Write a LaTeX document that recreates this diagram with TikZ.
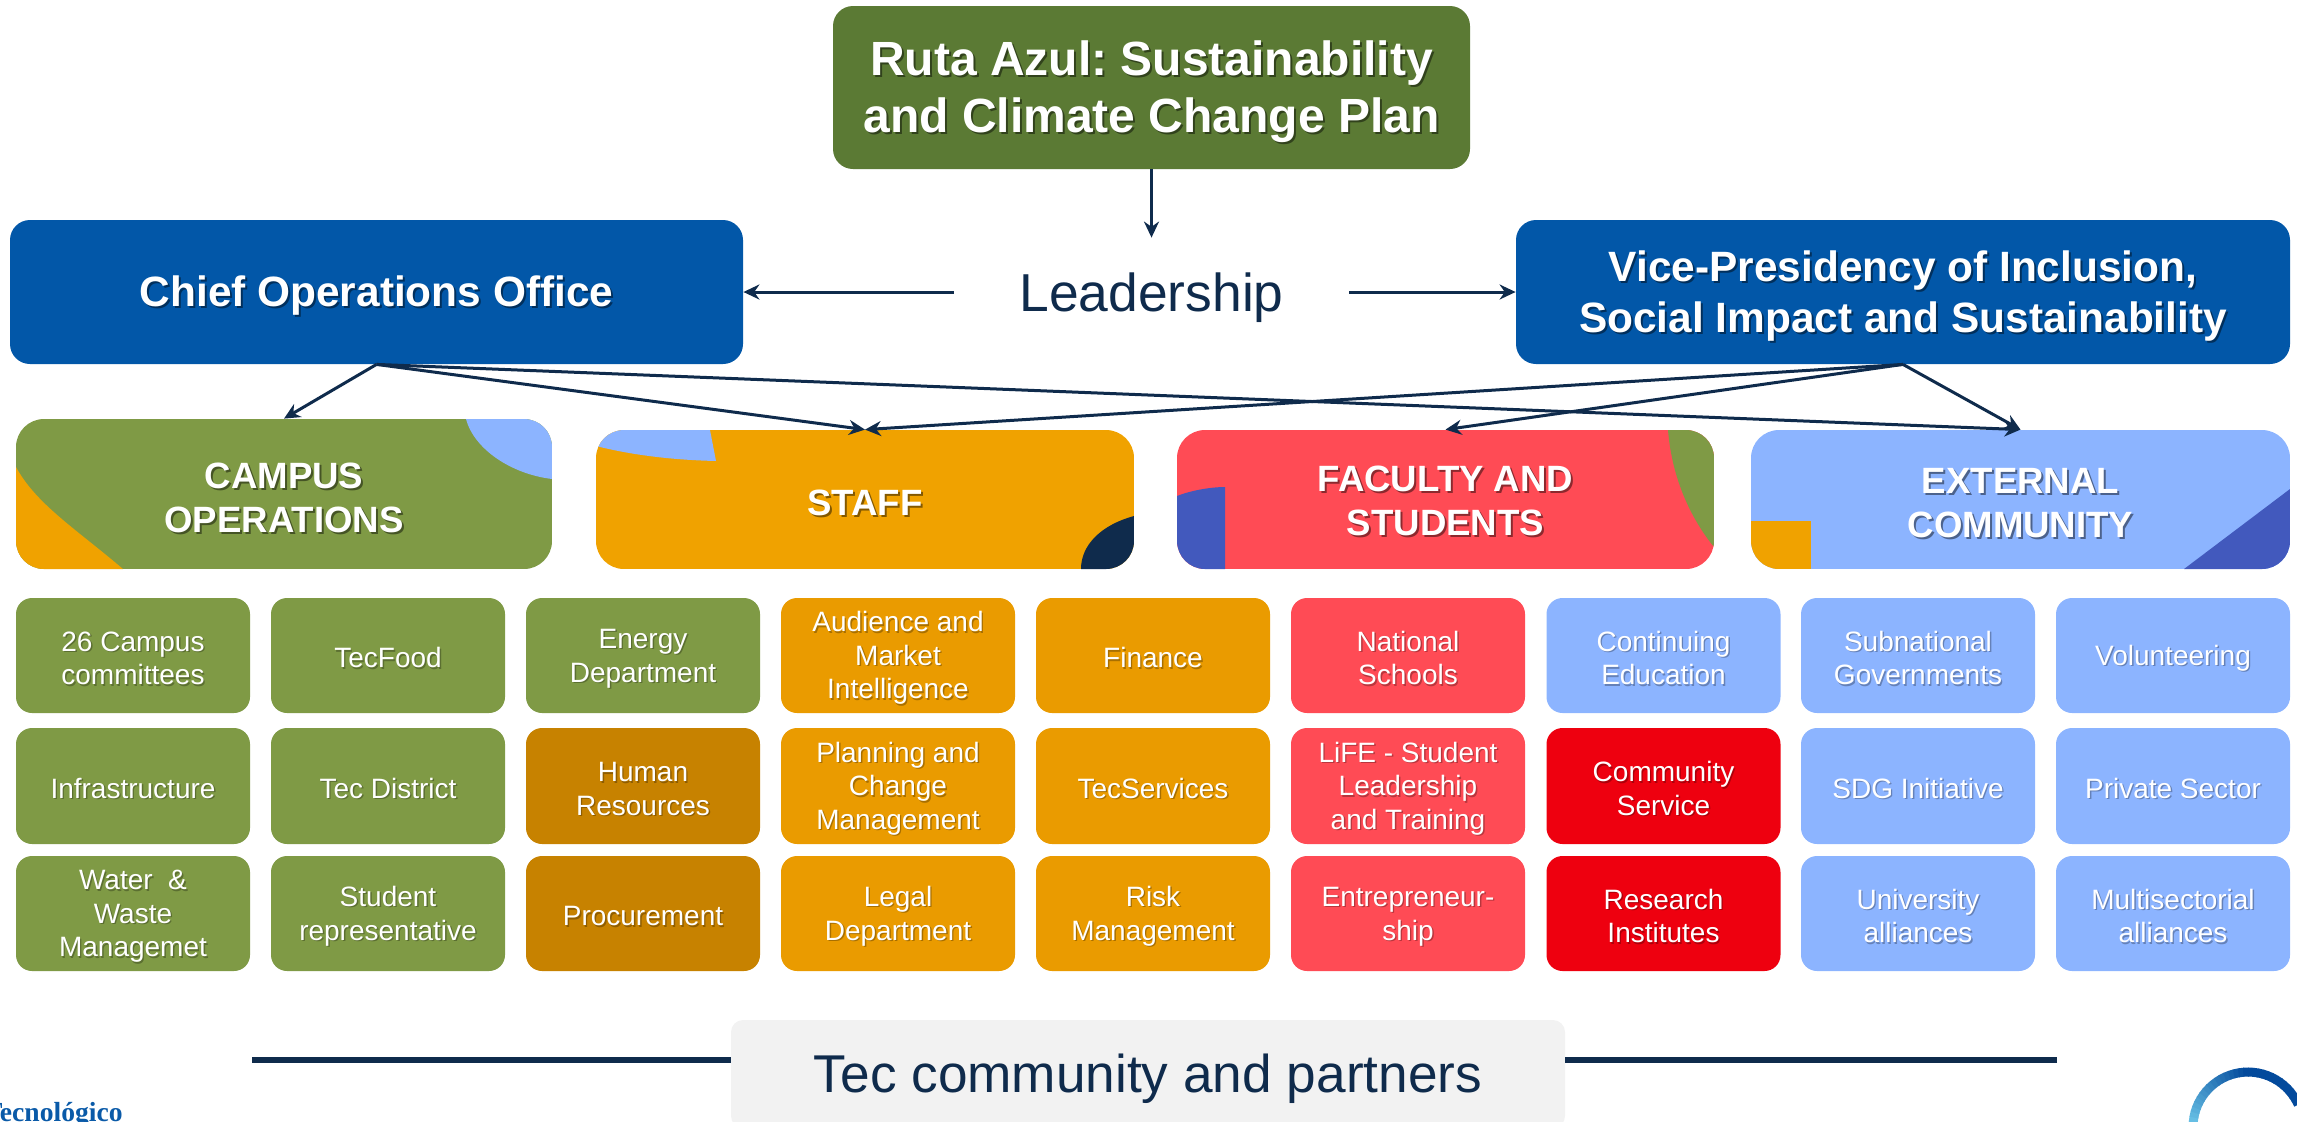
\documentclass[tikz,border=0pt]{standalone}
\usepackage{fontspec}
\setmainfont{Liberation Sans}
\newfontfamily\logofont{Liberation Serif}
\usetikzlibrary{arrows.meta,calc}
\definecolor{navy}{HTML}{0F2B4C}
\definecolor{topgreen}{HTML}{5B7A34}
\definecolor{chiefblue}{HTML}{0257A8}
\definecolor{grpgreen}{HTML}{7F9A45}
\definecolor{grporange}{HTML}{F0A200}
\definecolor{grpcoral}{HTML}{FF4B55}
\definecolor{grpsky}{HTML}{8CB4FF}
\definecolor{grpindigo}{HTML}{4259BD}
\definecolor{cellorange}{HTML}{EA9B00}
\definecolor{celldark}{HTML}{C78200}
\definecolor{cellred}{HTML}{EE000F}
\definecolor{panel}{HTML}{F2F2F2}
\definecolor{logoblue}{HTML}{0A5AA8}
\definecolor{ringa}{HTML}{6CC5E8}
\definecolor{ringb}{HTML}{034A9C}
\frenchspacing
\AtBeginDocument{\lineskiplimit=-100pt\relax}
\newcommand{\shd}[1]{\leavevmode\rule[-.05em]{0pt}{1.0em}\rlap{\raisebox{-1pt}{\hspace{1pt}\pgfsetfillopacity{0.45}\textcolor{black}{#1}\pgfsetfillopacity{1}}}#1}
\newcommand{\lsh}[1]{\leavevmode\rule[-.05em]{0pt}{1.0em}\rlap{\raisebox{-0.7pt}{\hspace{0.7pt}\pgfsetfillopacity{0.28}\textcolor{black}{#1}\pgfsetfillopacity{1}}}#1}
\newcommand{\plainln}[1]{\rule[-.055em]{0pt}{1.0em}#1}
\tikzset{
  x=0.5pt,y=-0.5pt,
  arrowline/.style={navy,line width=1.5pt,-{Stealth[length=8pt,width=7.5pt]}},
  headbox/.style={rounded corners=10pt,inner sep=0pt,align=center,text=white},
  groupbox/.style={inner sep=0pt,align=center,text=white,
    font=\fontsize{18.3}{22}\selectfont\bfseries},
  cellbox/.style={rounded corners=8pt,inner sep=0pt,align=center,text=white,
    minimum width=117pt,font=\fontsize{14}{16.8}\selectfont},
  toprow/.style={minimum height=57.5pt},
  midrow/.style={minimum height=58pt},
  botrow/.style={minimum height=57.5pt},
  groupclip/.style={rounded corners=14pt},
}
\begin{document}
\begin{tikzpicture}
\clip (0,0) rectangle (2297,1121);
% headers
\node[headbox,fill=topgreen,minimum width=318.5pt,minimum height=81.5pt,
  font=\fontsize{24}{28.6}\selectfont\bfseries] (ruta) at (1151.5,87.5)
  {\shd{Ruta Azul: Sustainability}\\\shd{and Climate Change Plan}};
\node[inner sep=0pt,minimum width=197.5pt,minimum height=54pt,text=navy,
  font=\fontsize{26.7}{32}\selectfont] (lead) at (1151.5,292) {\plainln{Leadership}};
\node[headbox,fill=chiefblue,minimum width=366.5pt,minimum height=72pt,
  font=\fontsize{21.2}{25.6}\selectfont\bfseries] (chief) at (376.5,292)
  {\shd{Chief Operations Office}};
\node[headbox,fill=chiefblue,minimum width=387pt,minimum height=72pt,
  font=\fontsize{21.2}{25.6}\selectfont\bfseries] (vice) at (1903,292)
  {\shd{Vice-Presidency of Inclusion,}\\\shd{Social Impact and Sustainability}};
% group backgrounds
\begin{scope}[shift={(16,419)}]
  \clip[groupclip] (0,0) rectangle (536,150);
  \fill[grpgreen] (0,0) rectangle (536,150);
  \fill[grporange] (0,48) .. controls (20,85) and (60,110) .. (107,150) -- (-5,150) -- cycle;
  \fill[grpsky] (450,0) .. controls (458,30) and (495,55) .. (536,60) -- (536,0) -- cycle;
\end{scope}
\begin{scope}[shift={(596,430)}]
  \clip[groupclip] (0,0) rectangle (538,139);
  \fill[grporange] (0,0) rectangle (538,139);
  \fill[grpsky] (0,16) .. controls (40,26) and (80,30) .. (120,31) -- (114,0) -- (0,0) -- cycle;
  \fill[navy] (485,139) .. controls (485,115) and (505,95) .. (538,86) -- (538,139) -- cycle;
\end{scope}
\begin{scope}[shift={(1177,430)}]
  \clip[groupclip] (0,0) rectangle (537,139);
  \fill[grpcoral] (0,0) rectangle (537,139);
  \fill[grpgreen] (491,0) .. controls (495,50) and (515,90) .. (537,117) -- (537,0) -- cycle;
  \fill[grpindigo] (0,66) .. controls (15,60) and (35,57) .. (48,57) -- (48,139) -- (0,139) -- cycle;
\end{scope}
\begin{scope}[shift={(1751,430)}]
  \clip[groupclip] (0,0) rectangle (539,139);
  \fill[grpsky] (0,0) rectangle (539,139);
  \fill[grporange] (0,91) rectangle (60,139);
  \fill[grpindigo] (433,139) -- (539,59) -- (539,139) -- cycle;
\end{scope}
% group labels
\node[groupbox,minimum width=268pt,minimum height=75pt] (campus) at (284,494) {\shd{CAMPUS}\\\shd{OPERATIONS}};
\node[groupbox,minimum width=269pt,minimum height=69.5pt] (staff) at (865,499.5) {\shd{STAFF}};
\node[groupbox,minimum width=268.5pt,minimum height=67pt] (faculty) at (1445.5,497) {\shd{FACULTY AND}\\\shd{STUDENTS}};
\node[groupbox,minimum width=269.5pt,minimum height=69.5pt] (external) at (2020.5,499.5) {\shd{EXTERNAL}\\\shd{COMMUNITY}};
% connectors
\draw[arrowline] (ruta.south) -- (lead.north);
\draw[arrowline] (lead.west) -- (chief.east);
\draw[arrowline] (lead.east) -- (vice.west);
\draw[arrowline] (chief.south) -- (campus.north);
\draw[arrowline] (chief.south) -- (staff.north);
\draw[arrowline] (chief.south) -- (external.north);
\draw[arrowline] (vice.south) -- (staff.north);
\draw[arrowline] (vice.south) -- (faculty.north);
\draw[arrowline] (vice.south) -- (external.north);
% cells
\node[cellbox,toprow,fill=grpgreen] (c11) at (133,655.5) {\lsh{26 Campus}\\\lsh{committees}};
\node[cellbox,toprow,fill=grpgreen] (c12) at (388,655.5) {\lsh{TecFood}};
\node[cellbox,toprow,fill=grpgreen] (c13) at (643,655.5) {\lsh{Energy}\\\lsh{Department}};
\node[cellbox,toprow,fill=cellorange] (c14) at (898,655.5) {\lsh{Audience and}\\\lsh{Market}\\\lsh{Intelligence}};
\node[cellbox,toprow,fill=cellorange] (c15) at (1153,655.5) {\lsh{Finance}};
\node[cellbox,toprow,fill=grpcoral] (c16) at (1408,655.5) {\lsh{National}\\\lsh{Schools}};
\node[cellbox,toprow,fill=grpsky] (c17) at (1663.5,655.5) {\lsh{Continuing}\\\lsh{Education}};
\node[cellbox,toprow,fill=grpsky] (c18) at (1918,655.5) {\lsh{Subnational}\\\lsh{Governments}};
\node[cellbox,toprow,fill=grpsky] (c19) at (2173,655.5) {\lsh{Volunteering}};
\node[cellbox,midrow,fill=grpgreen] (c21) at (133,786) {\lsh{Infrastructure}};
\node[cellbox,midrow,fill=grpgreen] (c22) at (388,786) {\lsh{Tec District}};
\node[cellbox,midrow,fill=celldark] (c23) at (643,786) {\lsh{Human}\\\lsh{Resources}};
\node[cellbox,midrow,fill=cellorange] (c24) at (898,786) {\lsh{Planning and}\\\lsh{Change}\\\lsh{Management}};
\node[cellbox,midrow,fill=cellorange] (c25) at (1153,786) {\lsh{TecServices}};
\node[cellbox,midrow,fill=grpcoral] (c26) at (1408,786) {\lsh{LiFE - Student}\\\lsh{Leadership}\\\lsh{and Training}};
\node[cellbox,midrow,fill=cellred] (c27) at (1663.5,786) {\lsh{Community}\\\lsh{Service}};
\node[cellbox,midrow,fill=grpsky] (c28) at (1918,786) {\lsh{SDG Initiative}};
\node[cellbox,midrow,fill=grpsky] (c29) at (2173,786) {\lsh{Private Sector}};
\node[cellbox,botrow,fill=grpgreen] (c31) at (133,913.5) {\lsh{Water\ \ \&}\\\lsh{Waste}\\\lsh{Managemet}};
\node[cellbox,botrow,fill=grpgreen] (c32) at (388,913.5) {\lsh{Student}\\\lsh{representative}};
\node[cellbox,botrow,fill=celldark] (c33) at (643,913.5) {\lsh{Procurement}};
\node[cellbox,botrow,fill=cellorange] (c34) at (898,913.5) {\lsh{Legal}\\\lsh{Department}};
\node[cellbox,botrow,fill=cellorange] (c35) at (1153,913.5) {\lsh{Risk}\\\lsh{Management}};
\node[cellbox,botrow,fill=grpcoral] (c36) at (1408,913.5) {\lsh{Entrepreneur-}\\\lsh{ship}};
\node[cellbox,botrow,fill=cellred] (c37) at (1663.5,913.5) {\lsh{Research}\\\lsh{Institutes}};
\node[cellbox,botrow,fill=grpsky] (c38) at (1918,913.5) {\lsh{University}\\\lsh{alliances}};
\node[cellbox,botrow,fill=grpsky] (c39) at (2173,913.5) {\lsh{Multisectorial}\\\lsh{alliances}};
% bottom band
\coordinate (bandL) at (252,1060);
\coordinate (bandR) at (2057,1060);
\node[rounded corners=6pt,fill=panel,inner sep=0pt,minimum width=417pt,minimum height=54pt,text=navy,
  font=\fontsize{26.6}{32}\selectfont] (tec) at (1148,1074) {\rule[-.08em]{0pt}{.965em}Tec community and partners};
\draw[navy,line width=3pt] (bandL) -- (bandL -| tec.west);
\draw[navy,line width=3pt] (bandR) -- (bandR -| tec.east);
% logo fragments
\node[anchor=base east,inner sep=0pt,text=logoblue,font=\logofont\fontsize{13.8}{16}\selectfont\bfseries] (logo) at (123,1121) {Tecnológico};
\foreach \a in {180,175,...,30}{
  \pgfmathsetmacro{\m}{min(100,max(0,(180-\a)*100/85))}
  \draw[line width=4.5pt,color=ringb!\m!ringa] ($(2248,1127)+(-\a:55 and 55)$) arc[start angle=-\a,delta angle=6,x radius=55,y radius=55];
}
\end{tikzpicture}
\end{document}
